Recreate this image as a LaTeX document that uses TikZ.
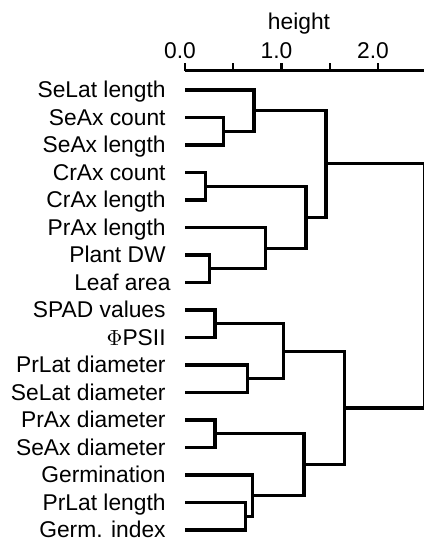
\documentclass[tikz,border=0pt]{standalone}
\usepackage{fontspec}
\setmainfont{Liberation Sans}
\usetikzlibrary{positioning}
\tikzset{
    % text of leaves and axis
    leaf/.style={
           anchor=base east,
           inner sep=0pt,
           font=\fontsize{11.4}{13}\selectfont},
    ticklab/.style={
           anchor=base,
           inner sep=0pt,
           font=\fontsize{11.4}{13}\selectfont},
    % dendrogram links
    link/.style={
           line width=1.6pt},
    axisline/.style={
           line width=1.5pt},
    tick/.style={
           line width=1.1pt}
}

\begin{document}
\begin{tikzpicture}[x=0.5pt,y=-0.5pt]
  \useasboundingbox (0,0) rectangle (423,539);

  % height axis
  \coordinate (ax0) at (185,71);
  \coordinate (ax1) at (426,71);
  \draw[axisline] (ax0) -- (ax1);
  \foreach \h [count=\k] in {0,0.5,1,1.5,2}
    \draw[tick] ({185+96.5*\h},71) -- ++(0,-7.5);
  \foreach \h/\t [count=\k] in {0/0.0,1/1.0,2/2.0}
    \node[ticklab] (tl\k) at ({180+96.5*\h},59) {\t};
  \node[ticklab] (axtitle) at (299,30) {height};

  % leaves
  \foreach \lab/\dx [count=\i] in {SeLat length/0,SeAx count/0,SeAx length/0,
      CrAx count/0,CrAx length/0,PrAx length/0,Plant DW/0,Leaf area/5,
      SPAD values/0,{$\Phi$PSII}/0,PrLat diameter/0,SeLat diameter/0,
      PrAx diameter/0,SeAx diameter/0,Germination/0,PrLat length/0,Germ. index/0}
  {
    \coordinate (p\i) at (185,{90+27.5*(\i-1)});
    \node[leaf] (n\i) at ({166+\dx},{97.7+27.5*(\i-1)}) {\lab};
  }

  % merges: name / height / y / left child / right child
  \foreach \m/\h/\y/\a/\b in {
      m1/0.40/131.25/p2/p3,
      m2/0.715/110.6/p1/m1,
      m3/0.21/186.25/p4/p5,
      m4/0.25/268.75/p7/p8,
      m5/0.83/248.1/p6/m4,
      m6/1.254/217.2/m3/m5,
      m7/1.461/163.9/m2/m6,
      m8/0.31/323.75/p9/p10,
      m9/0.65/378.75/p11/p12,
      m10/1.02/351.25/m8/m9,
      m11/0.31/433.75/p13/p14,
      m12/0.63/516.25/p16/p17,
      m13/0.70/495.6/p15/m12,
      m14/1.233/464.7/m11/m13,
      m15/1.65/408/m10/m14,
      root/2.482/286/m7/m15}
  {
    \coordinate (\m) at ({185+96.5*\h},\y);
    \draw[link] (\a) -| (\m) |- (\b);
  }
\end{tikzpicture}
\end{document}
